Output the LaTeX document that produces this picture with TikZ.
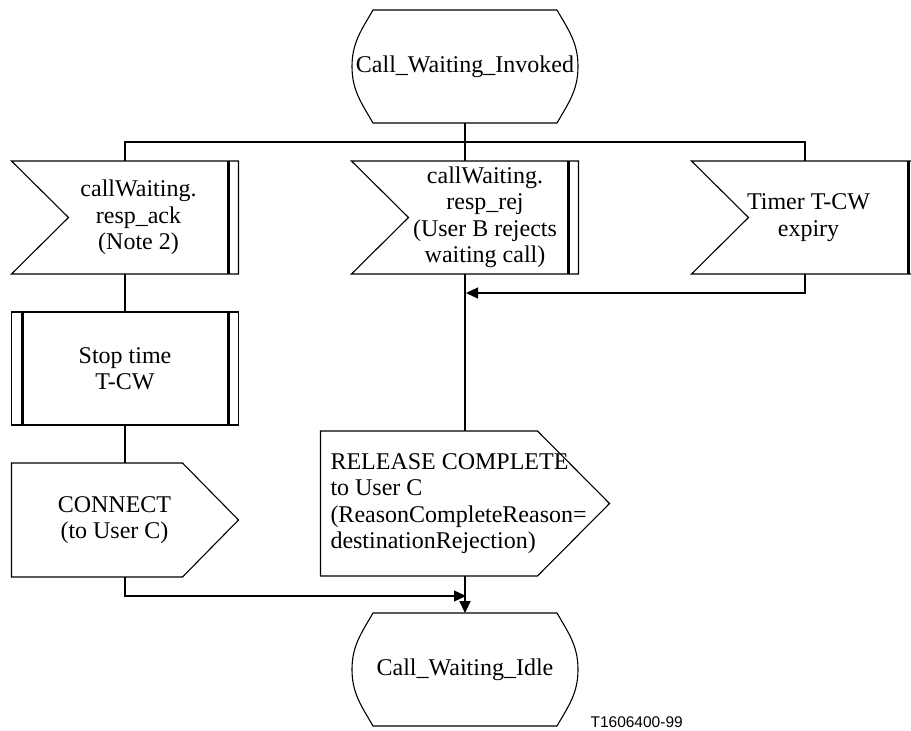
\documentclass[tikz,border=0pt]{standalone}
\usepackage{fontspec}
\setmainfont{Liberation Serif}
\newfontfamily\figidfont{Liberation Sans}
\usetikzlibrary{arrows.meta}
\usetikzlibrary{positioning}
\tikzset{
    sdl/.style={>={Triangle[length=12pt,width=11pt]},line width=1.1pt,
                     x=1pt,y=1pt,node distance=38pt,
                     font=\fontsize{24}{26.5}\selectfont},
    mainline/.style={line width=2.2pt},
    tshift/.style={execute at begin node={\advance\leftskip by #1}},
    sdlstate/.style={inner sep=0pt, outer sep=0pt, text width=226pt,
        minimum height=113pt, align=flush center,
        append after command={\pgfextra{
            \draw ([xshift=21pt]\tikzlastnode.north west)
                -- ([xshift=-21pt]\tikzlastnode.north east)
                to[out=-60,in=90] (\tikzlastnode.east)
                to[out=-90,in=60] ([xshift=-21pt]\tikzlastnode.south east)
                -- ([xshift=21pt]\tikzlastnode.south west)
                to[out=120,in=-90] (\tikzlastnode.west)
                to[out=90,in=-120] ([xshift=21pt]\tikzlastnode.north west) -- cycle;}}},
    sdlin/.style={inner sep=0pt, outer sep=0pt, text width=227pt,
        minimum height=113pt, align=flush center,
        append after command={\pgfextra{
            \draw (\tikzlastnode.north west) -- ([xshift=57pt]\tikzlastnode.west)
                -- (\tikzlastnode.south west) -- (\tikzlastnode.south east)
                -- (\tikzlastnode.north east) -- cycle;
            \draw[line width=2.5pt] ([xshift=-10pt]\tikzlastnode.north east)
                -- ([xshift=-10pt]\tikzlastnode.south east);}}},
    sdlproc/.style={draw, inner sep=0pt, outer sep=0pt, text width=227pt,
        minimum height=113pt, align=flush center,
        append after command={\pgfextra{
            \draw[line width=2.5pt] ([xshift=11pt]\tikzlastnode.north west)
                -- ([xshift=11pt]\tikzlastnode.south west)
                ([xshift=-10pt]\tikzlastnode.north east)
                -- ([xshift=-10pt]\tikzlastnode.south east);}}},
    sdlout/.style={inner sep=0pt, outer sep=0pt, align=flush center,
        append after command={\pgfextra{
            \draw (\tikzlastnode.north west) -- ([xshift=-#1]\tikzlastnode.north east)
                -- (\tikzlastnode.east) -- ([xshift=-#1]\tikzlastnode.south east)
                -- (\tikzlastnode.south west) -- cycle;}}},
    }

\begin{document}
\begin{tikzpicture}[sdl]
    \useasboundingbox (0,0) rectangle (911,-731);

    \node[sdlstate] (cwi) at (465,-66.5) {Call\_Waiting\_Invoked};
    \node[sdlin, below=of cwi, tshift=40pt] (rej)
        {callWaiting.\\resp\_rej\\(User B rejects\\waiting call)};
    \node[sdlin, left=113pt of rej, tshift=27pt] (ack)
        {callWaiting.\\resp\_ack\\(Note 2)};
    \node[sdlin, right=113pt of rej, tshift=7pt] (tmr) {Timer T-CW\\expiry};
    \node[sdlproc, below=of ack] (stop) {Stop time\\T-CW};
    \node[sdlout=56pt, below=of stop, text width=227pt, minimum height=114pt,
        tshift=-21pt] (con) {CONNECT\\(to User C)};
    \node[sdlout=72pt, below=157pt of rej, text width=289pt, minimum height=145pt,
        align=flush left, tshift=10pt] (rel)
        {RELEASE COMPLETE\\to User C\\(ReasonCompleteReason=\\destinationRejection)};
    \node[sdlstate, below=37pt of rel] (idle) {Call\_Waiting\_Idle};
    \node[anchor=base west, inner sep=0pt, font=\figidfont\fontsize{15.5}{18}\selectfont]
        (figid) at (590,-727) {T1606400-99};

    \coordinate (bus) at (465,-142);
    \coordinate (tmrin) at (466,-293);
    \coordinate (conin) at (466,-596);

    \draw[mainline] (cwi) -- (rej);
    \draw (ack) |- (bus) -| (tmr);
    \draw[->] (tmr) |- (tmrin);
    \draw[mainline] (rej) -- (rel);
    \draw[mainline,->] (rel) -- (idle);
    \draw (ack) -- (stop);
    \draw (stop) -- (con);
    \draw[->] (con) |- (conin);
\end{tikzpicture}
\end{document}
